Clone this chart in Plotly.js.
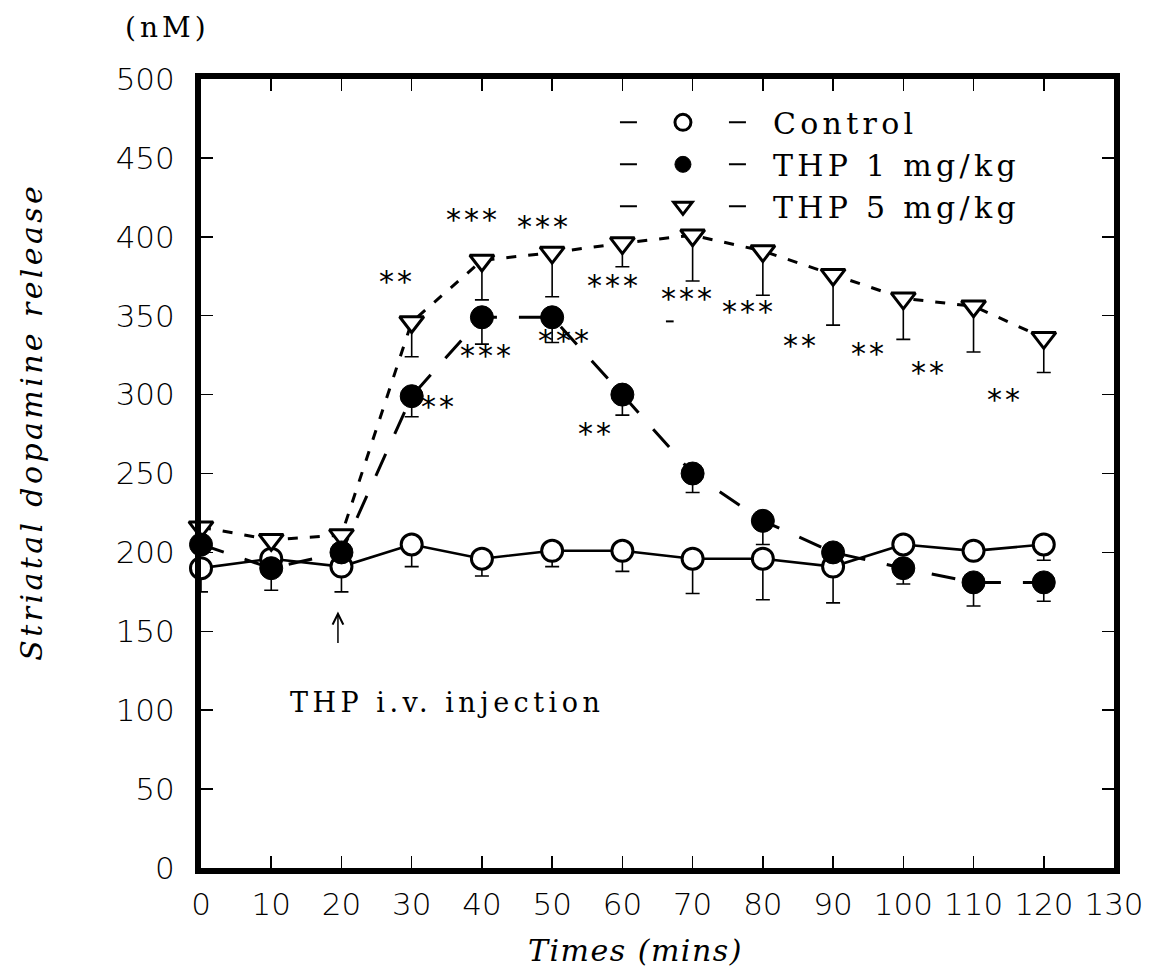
<!DOCTYPE html>
<html>
<head>
<meta charset="utf-8">
<script src="https://cdn.plot.ly/plotly-3.0.1.min.js"></script>
<style>
html,body{margin:0;padding:0;background:#fff;}
#chart{width:1155px;height:980px;}
</style>
</head>
<body>
<div id="chart"></div>
<script>
// ---- data ----
const timeMin = [0, 10, 20, 30, 40, 50, 60, 70, 80, 90, 100, 110, 120];
const controlValues = [190, 196, 191, 205, 196, 201, 201, 196, 196, 191, 205, 201, 205];
const controlErrMinus = [15, 0, 16, 14, 11, 10, 13, 22, 26, 23, 0, 0, 10];
const thp1Values = [205, 190, 200, 299, 349, 349, 300, 250, 220, 200, 190, 181, 181];
const thp1ErrMinus = [0, 14, 0, 13, 17, 16, 13, 12, 15, 0, 10, 15, 12];
const thp5Values = [216, 208, 211, 346, 385, 390, 396, 401, 391, 376, 361, 356, 336];
const thp5ErrMinus = [0, 0, 0, 22, 25, 28, 15, 29, 28, 32, 26, 29, 22];
const noUpperErr = [0, 0, 0, 0, 0, 0, 0, 0, 0, 0, 0, 0, 0];
const seriesNames = ['Control', 'THP 1 mg/kg', 'THP 5 mg/kg'];
const xTickVals = [0, 10, 20, 30, 40, 50, 60, 70, 80, 90, 100, 110, 120, 130];
const yTickVals = [0, 50, 100, 150, 200, 250, 300, 350, 400, 450, 500];

// significance labels (text, time, value)
const sigText = ['**', '***', '***', '***', '***', '***', '**', '**', '**', '**', '***', '***', '**', '**'];
const sigX = [27.6, 38.5, 48.6, 58.5, 69.0, 77.7, 85.2, 94.9, 103.4, 114.2, 40.4, 51.5, 33.6, 56.0];
const sigY = [374.8, 414, 409.6, 372.3, 364, 355.9, 334.4, 329.3, 317.3, 300.3, 328, 337.5, 295.8, 278.8];

const serif = 'DejaVu Serif, Liberation Serif, serif';
const track = (s, px) => '<span style="letter-spacing:' + px + 'px">' + s + '</span>';

function errBars(minus) {
  return {type: 'data', symmetric: false, array: noUpperErr, arrayminus: minus,
          color: '#000', thickness: 1.6, width: 7};
}

const styles = [
  {line: {color: '#000', width: 2.6, dash: 'solid'},
   marker: {symbol: 'circle', size: 21, color: '#fff', line: {color: '#000', width: 3}}},
  {line: {color: '#000', width: 3, dash: '24px,22px'},
   marker: {symbol: 'circle', size: 23, color: '#000', line: {color: '#000', width: 1}}},
  {line: {color: '#000', width: 3, dash: '10px,12px'},
   marker: {symbol: 'triangle-down', size: 21, color: '#fff', line: {color: '#000', width: 3}}}
];
const seriesValues = [controlValues, thp1Values, thp5Values];
const seriesErr = [controlErrMinus, thp1ErrMinus, thp5ErrMinus];
const drawOrder = [0, 2, 1];

const traces = [];
drawOrder.forEach(function (i) {
  traces.push({
    type: 'scatter', mode: 'lines+markers', x: timeMin, y: seriesValues[i],
    name: seriesNames[i], showlegend: false, cliponaxis: false,
    line: styles[i].line, marker: styles[i].marker, error_y: errBars(seriesErr[i])
  });
});
// legend entries ("– symbol –" style)
[0, 1, 2].forEach(function (i) {
  traces.push({
    type: 'scatter', mode: 'lines+markers', x: [null], y: [null],
    name: track(seriesNames[i], 4.3), showlegend: true,
    line: {color: '#000', width: 2, dash: '0px,22px,17px,92px,17px,22px'},
    marker: styles[i].marker
  });
});

const annotations = [];
sigText.forEach(function (t, k) {
  annotations.push({x: sigX[k], y: sigY[k], xref: 'x', yref: 'y', text: track(t, 3),
    showarrow: false, yshift: -5, xshift: 2,
    font: {family: 'DejaVu Sans, sans-serif', size: 30, color: '#000'}});
});
annotations.push({x: 19.5, y: 162.5, xref: 'x', yref: 'y', text: '', showarrow: true,
  ax: 0, ay: 33, arrowhead: 5, arrowsize: 1.4, arrowwidth: 1.5, arrowcolor: '#000'});
annotations.push({x: 35.0, y: 105, xref: 'x', yref: 'y', text: track('THP i.v. injection', 4.5),
  showarrow: false, font: {family: serif, size: 27, color: '#000'}});
annotations.push({x: -0.037, y: 1.065, xref: 'paper', yref: 'paper', xanchor: 'center', yanchor: 'middle',
  text: track('(nM)', 4), showarrow: false, font: {family: serif, size: 28, color: '#000'}});

// small stray stroke printed under one of the significance marks
const shapes = [{type: 'line', xref: 'x', yref: 'y', x0: 66.2, x1: 67.3, y0: 346.4, y1: 346.4,
  line: {color: '#000', width: 2}}];

const NB = '\u00a0';
const tickFont = {family: 'DejaVu Sans, sans-serif', size: 31, color: '#000', weight: 200};

const layout = {
  width: 1155, height: 980,
  margin: {l: 201, r: 41, t: 79, b: 112},
  paper_bgcolor: '#fff', plot_bgcolor: '#fff',
  showlegend: true,
  legend: {x: 0.4293, y: 0.978, xanchor: 'left', yanchor: 'top', bgcolor: 'rgba(0,0,0,0)',
           itemwidth: 170, tracegroupgap: 0, font: {family: serif, size: 30, color: '#000'}},
  xaxis: {range: [0, 130], tickmode: 'array', tickvals: xTickVals, ticktext: xTickVals.map(String),
          ticks: 'inside', ticklen: 12, tickwidth: 1.5, tickcolor: '#000',
          showline: true, linewidth: 6, linecolor: '#000', mirror: 'ticks',
          showgrid: false, zeroline: false, tickfont: tickFont, ticklabelstandoff: 4,
          title: {text: track('Times (mins)' + NB + NB + NB + NB, 1.5), standoff: 21,
                  font: {family: serif, size: 30, style: 'italic', color: '#000'}}},
  yaxis: {range: [0, 500], tickmode: 'array', tickvals: yTickVals, ticktext: yTickVals.map(String),
          ticks: 'inside', ticklen: 12, tickwidth: 1.5, tickcolor: '#000',
          showline: true, linewidth: 6, linecolor: '#000', mirror: 'ticks',
          showgrid: false, zeroline: false, tickfont: tickFont, ticklabelstandoff: 14,
          title: {text: track(NB.repeat(8) + 'Striatal dopamine release', 3.4), standoff: 66,
                  font: {family: serif, size: 30, style: 'italic', color: '#000'}}},
  annotations: annotations,
  shapes: shapes
};

Plotly.newPlot('chart', traces, layout, {displayModeBar: false, staticPlot: true});
</script>
</body>
</html>
